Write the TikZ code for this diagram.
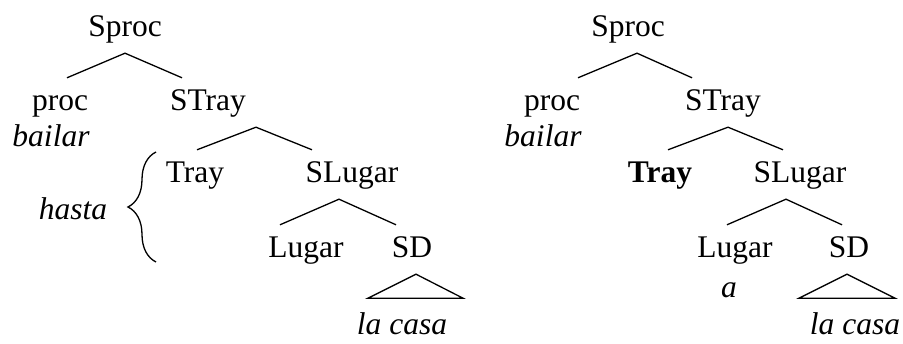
\documentclass[tikz,border=0pt]{standalone}
\usepackage{fontspec}
\setmainfont{Liberation Serif}
\usetikzlibrary{decorations.pathreplacing}

\begin{document}
\begin{tikzpicture}[x=1pt,y=-1pt]
	\tikzset{cat/.style = {anchor=base, inner xsep=2pt, inner ysep=9pt, text height=24pt, text depth=7pt, font=\fontsize{31.5}{36}\selectfont}}
	\tikzset{word/.style = {cat, inner ysep=1pt, text depth=2pt, font=\fontsize{31.5}{36}\selectfont\itshape}}
	\tikzset{branch/.style = {line width=1.3pt}}
	\useasboundingbox (0,0) rectangle (903,344);
	% left tree
	\node[cat] (sp1) at (125,37) {Sproc};
	\node[cat] (pr1) at (60,111) {proc};
	\node[word] (ba1) at (51,147) {bailar};
	\node[cat] (st1) at (208,111) {STray};
	\node[cat] (tr1) at (195,183) {Tray};
	\node[cat] (sl1) at (352,183) {SLugar};
	\node[cat] (lu1) at (306,258) {Lugar};
	\node[cat] (sd1) at (412,258) {SD};
	\node[word] (lc1) at (402,335) {la casa};
	\node[word] (ha1) at (73,220) {hasta};
	% right tree
	\node[cat] (sp2) at (628,37) {Sproc};
	\node[cat] (pr2) at (552,111) {proc};
	\node[word] (ba2) at (543,147) {bailar};
	\node[cat] (st2) at (723,111) {STray};
	\node[cat] (tr2) at (660,183) {\textbf{Tray}};
	\node[cat] (sl2) at (800,183) {SLugar};
	\node[cat] (lu2) at (735,258) {Lugar};
	\node[word] (a2) at (729,298) {a};
	\node[cat] (sd2) at (849,258) {SD};
	\node[word] (lc2) at (855,335) {la casa};
	% branches
	\draw[branch] ([xshift=7pt]pr1.north) -- (sp1.south) -- ([xshift=-26pt]st1.north);
	\draw[branch] ([xshift=2pt]tr1.north) -- ([xshift=48pt]st1.south) -- ([xshift=-40pt]sl1.north);
	\draw[branch] ([xshift=-26pt]lu1.north) -- ([xshift=-13pt]sl1.south) -- ([xshift=-16pt]sd1.north);
	\draw[branch] ([xshift=4pt]sd1.south) -- ++(-48,24) -- ++(95,0) -- cycle;
	\draw[branch] ([xshift=26pt]pr2.north) -- ([xshift=9pt]sp2.south) -- ([xshift=-31pt]st2.north);
	\draw[branch] ([xshift=8pt]tr2.north) -- ([xshift=5pt]st2.south) -- ([xshift=-17pt]sl2.north);
	\draw[branch] ([xshift=-8pt]lu2.north) -- ([xshift=-14pt]sl2.south) -- ([xshift=-7pt]sd2.north);
	\draw[branch] ([xshift=-2pt]sd2.south) -- ++(-48,24) -- ++(96,0) -- cycle;
	% brace
	\draw[branch, decorate, decoration={brace, amplitude=28pt}] (156,262) -- (156,152);
\end{tikzpicture}
\end{document}
